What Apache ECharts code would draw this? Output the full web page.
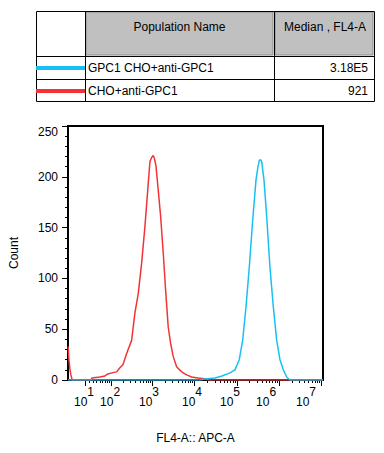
<!DOCTYPE html>
<html>
<head>
<meta charset="utf-8">
<script src="https://cdn.jsdelivr.net/npm/echarts@6/dist/echarts.min.js"></script>
<style>html,body{margin:0;padding:0;background:#fff;}#c{width:384px;height:453px;}</style>
</head>
<body>
<div id="c"></div>
<script>
// ---- data (x in display decades, biexponential-like axis; y = count) ----
const seriesNames = ['GPC1 CHO+anti-GPC1', 'CHO+anti-GPC1'];
const medians = ['3.18E5', '921'];
const colors = ['#18c0f2', '#f23434'];

const redX = [1.005, 1.021, 1.045, 1.068, 1.100, 1.543, 1.566, 1.756, 1.874, 1.945, 2.040, 2.152, 2.230, 2.301, 2.389, 2.507, 2.585, 2.664, 2.744, 2.822, 2.900, 2.941, 2.981, 3.019, 3.047, 3.083, 3.137, 3.194, 3.256, 3.313, 3.374, 3.431, 3.493, 3.573, 3.692, 3.810, 3.929, 4.078, 4.268, 4.315, 7.04];
const redY = [33, 20, 11, 5, 0, 0, 2, 3, 4, 6, 7, 8, 12, 15, 26, 39, 66, 85, 115, 151, 193, 215, 219, 221, 218, 211, 187, 161, 125, 88, 52, 36, 23, 13, 8, 5, 3, 2, 1, 0, 0];

const blueX = [1.0, 4.126, 4.244, 4.481, 4.647, 4.836, 4.955, 5.057, 5.137, 5.216, 5.294, 5.374, 5.453, 5.500, 5.531, 5.559, 5.588, 5.642, 5.706, 5.784, 5.863, 5.943, 6.021, 6.100, 6.180, 6.258, 7.04];
const blueY = [0, 0, 1, 2, 4, 7, 10, 20, 39, 72, 111, 157, 197, 210, 216, 217, 215, 197, 161, 111, 72, 39, 20, 10, 3, 0, 0];

const decadeExps = [1, 2, 3, 4, 5, 6, 7];
// where the decade labels sit along the axis (display decades), as in the original export
const labelPos = [1.380, 1.996, 2.919, 3.938, 4.838, 5.691, 6.638];

// ---- axis transform (biexponential-style) ----
const C = 19.5;
function D(v) { return Math.log10((v + Math.sqrt(v * v + 4 * C * C)) / 2); }
const xMin = 1.0, xMax = 7.04;
const majorVals = decadeExps.map(n => D(Math.pow(10, n)));
const minorVals = [];
for (let n = 1; n <= 6; n++) for (let k = 2; k <= 9; k++) minorVals.push(D(k * Math.pow(10, n)));

const FONT = 'Liberation Sans';
const chart = echarts.init(document.getElementById('c'), null, { renderer: 'svg' });

// ---- table graphics ----
const T = { l: 36, r: 374, t: 11, b: 101, c1: 85, c2: 274, h: 56, r1: 79 };
const tbl = [];
tbl.push({ type: 'rect', shape: { x: T.c1 + 1, y: T.t + 1, width: T.c2 - T.c1 - 2, height: T.h - T.t - 2 }, style: { fill: '#c0c0c0', stroke: '#8a8a8a', lineWidth: 1 } });
tbl.push({ type: 'rect', shape: { x: T.c2 + 1, y: T.t + 1, width: T.r - T.c2 - 2, height: T.h - T.t - 2 }, style: { fill: '#c0c0c0', stroke: '#8a8a8a', lineWidth: 1 } });
const L = (x1, y1, x2, y2) => ({ type: 'line', shape: { x1, y1, x2, y2 }, style: { stroke: '#000', lineWidth: 1 } });
tbl.push({ type: 'rect', shape: { x: T.l + 0.5, y: T.t + 0.5, width: T.r - T.l, height: T.b - T.t }, style: { fill: 'none', stroke: '#000', lineWidth: 1 } });
tbl.push(L(T.c1 + 0.5, T.t, T.c1 + 0.5, T.b));
tbl.push(L(T.c2 + 0.5, T.t, T.c2 + 0.5, T.b));
tbl.push(L(T.l, T.h + 0.5, T.r, T.h + 0.5));
tbl.push(L(T.l, T.r1 + 0.5, T.r, T.r1 + 0.5));
const txt = (x, y, s, align) => ({ type: 'text', x, y, style: { text: s, fill: '#000', font: '12px "' + FONT + '"', textAlign: align, textVerticalAlign: 'middle' } });
tbl.push(txt((T.c1 + T.c2) / 2, 27, 'Population Name', 'center'));
tbl.push(txt((T.c2 + T.r) / 2 + 1, 27, 'Median , FL4-A', 'center'));
tbl.push(txt(T.r - 6, 68, medians[0], 'right'));
tbl.push(txt(T.r - 6, 91, medians[1], 'right'));

const option = {
  animation: false,
  backgroundColor: '#fff',
  textStyle: { fontFamily: FONT },
  graphic: tbl,
  legend: {
    data: seriesNames,
    orient: 'vertical',
    left: T.l,
    top: 61,
    icon: 'rect',
    itemWidth: 49,
    itemHeight: 4,
    itemGap: 9,
    padding: 0,
    selectedMode: false,
    textStyle: { fontSize: 12, color: '#000', fontFamily: FONT, padding: [0, 0, 0, -2], lineHeight: 14 }
  },
  grid: { left: 68, right: 61, top: 126, bottom: 73, show: true, borderColor: '#000', borderWidth: 2, containLabel: false },
  xAxis: [{
    type: 'value', min: xMin, max: xMax,
    name: 'FL4-A:: APC-A', nameLocation: 'middle', nameGap: 52,
    nameTextStyle: { fontSize: 12, color: '#000', fontFamily: FONT },
    splitLine: { show: false },
    axisLine: { show: true, lineStyle: { color: '#000', width: 2 } },
    axisTick: { show: true, length: 6, lineStyle: { color: '#000', width: 1 }, customValues: majorVals },
    axisLabel: {
      customValues: labelPos, margin: 6, color: '#000',
      formatter: function (v) {
        let n = 0, best = 1e9;
        for (let i = 0; i < labelPos.length; i++) {
          const d = Math.abs(labelPos[i] - v);
          if (d < best) { best = d; n = decadeExps[i]; }
        }
        return '{b|10}{s|' + n + '}';
      },
      rich: {
        b: { fontSize: 12, fontFamily: FONT, color: '#000', padding: [10, 0, 0, 0] },
        s: { fontSize: 12, fontFamily: FONT, color: '#000', verticalAlign: 'top' }
      }
    }
  }, {
    type: 'value', min: xMin, max: xMax, position: 'bottom',
    splitLine: { show: false },
    axisLine: { show: false },
    axisTick: { show: true, length: 3, lineStyle: { color: '#000', width: 1 }, customValues: minorVals },
    axisLabel: { show: false }
  }],
  yAxis: {
    type: 'value', min: 0, max: 250, interval: 50,
    name: 'Count', nameLocation: 'middle', nameGap: 48, nameRotate: 90,
    nameTextStyle: { fontSize: 12, color: '#000', fontFamily: FONT },
    splitLine: { show: false },
    axisLine: { show: true, lineStyle: { color: '#000', width: 2 } },
    axisTick: { show: true, length: 6, lineStyle: { color: '#000', width: 1 } },
    minorTick: { show: true, splitNumber: 5, length: 3, lineStyle: { color: '#000', width: 1 } },
    axisLabel: { fontSize: 12, color: '#000', margin: 10, fontFamily: FONT, verticalAlignMaxLabel: 'top' }
  },
  series: [
    { name: seriesNames[1], type: 'line', data: redX.map((x, i) => [x, redY[i]]), showSymbol: false, symbol: 'none', lineStyle: { color: colors[1], width: 1.5 }, itemStyle: { color: colors[1] }, clip: true },
    { name: seriesNames[0], type: 'line', data: blueX.map((x, i) => [x, blueY[i]]), showSymbol: false, symbol: 'none', lineStyle: { color: colors[0], width: 1.5 }, itemStyle: { color: colors[0] }, clip: true }
  ]
};
chart.setOption(option);
</script>
</body>
</html>
